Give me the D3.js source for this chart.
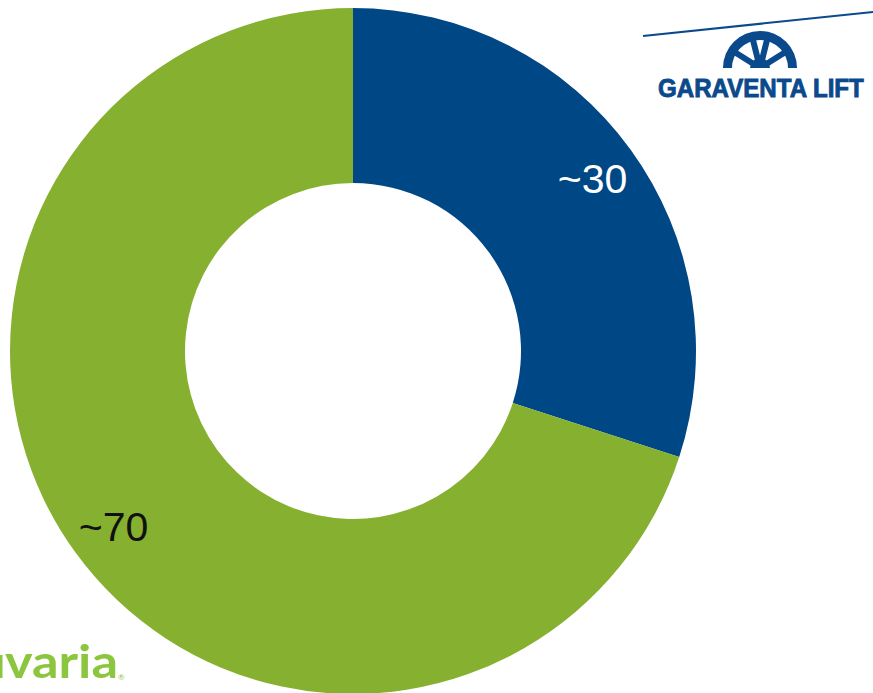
<!DOCTYPE html>
<html>
<head>
<meta charset="utf-8">
<script src="https://cdn.jsdelivr.net/npm/d3@7"></script>
<style>
  html, body { margin: 0; padding: 0; background: #ffffff; }
  svg { display: block; }
</style>
</head>
<body>
<svg id="chart" width="873" height="693"></svg>
<script>
// Share split (percent), drawn clockwise from 12 o'clock
const categories = ["Garaventa Lift", "Other"];
const values = [30, 70];
const labels = ["~30", "~70"];
const sliceColors = ["#004786", "#86b02f"];
const labelColors = ["#ffffff", "#111111"];

const svg = d3.select("#chart");
const cx = 353, cy = 351;
const outerR = 343, innerR = 168, labelR = 296;

const pie = d3.pie().sort(null).value(d => d.value);
const arcs = pie(categories.map((c, i) => ({ name: c, value: values[i], i })));

const arc = d3.arc().innerRadius(innerR).outerRadius(outerR);

const g = svg.append("g").attr("transform", `translate(${cx},${cy})`);

g.selectAll("path.slice")
  .data(arcs)
  .join("path")
  .attr("class", "slice")
  .attr("d", arc)
  .attr("fill", d => sliceColors[d.data.i]);

const labelArc = d3.arc().innerRadius(labelR).outerRadius(labelR);
g.selectAll("text.lbl")
  .data(arcs)
  .join("text")
  .attr("class", "lbl")
  .attr("transform", d => { const [x, y] = labelArc.centroid(d); return `translate(${x},${y + 2})`; })
  .attr("text-anchor", "middle")
  .attr("dominant-baseline", "central")
  .attr("font-family", "'Liberation Sans', Arial, sans-serif")
  .attr("font-size", 41)
  .attr("fill", d => labelColors[d.data.i])
  .text(d => labels[d.data.i]);

// Garaventa Lift brand mark, top right
const brand = "#0a4a8c";
svg.append("line")
  .attr("x1", 643).attr("y1", 36).attr("x2", 873).attr("y2", 12)
  .attr("stroke", brand).attr("stroke-width", 2);

const logo = svg.append("g").attr("transform", "translate(760,68)");
logo.append("path")
  .attr("d", d3.arc().innerRadius(28).outerRadius(37).startAngle(-Math.PI / 2).endAngle(Math.PI / 2)())
  .attr("fill", brand);
logo.append("path")
  .attr("d", d3.arc().innerRadius(0).outerRadius(10).startAngle(-Math.PI / 2).endAngle(Math.PI / 2)())
  .attr("fill", brand);
const spokeAngles = [-58, -14, 14, 58];
logo.selectAll("line.spoke")
  .data(spokeAngles)
  .join("line")
  .attr("class", "spoke")
  .attr("x1", 0).attr("y1", 0)
  .attr("x2", a => Math.sin(a * Math.PI / 180) * 31)
  .attr("y2", a => -Math.cos(a * Math.PI / 180) * 31)
  .attr("stroke", brand).attr("stroke-width", 6);
// keep the hub flat along the bottom
logo.append("rect").attr("x", -40).attr("y", 0).attr("width", 80).attr("height", 6).attr("fill", "#ffffff");

// wordmark, condensed horizontally
svg.append("text")
  .attr("transform", "translate(658,97) scale(0.91,1)")
  .attr("font-family", "'Liberation Sans', Arial, sans-serif")
  .attr("font-weight", "bold")
  .attr("font-size", 26.5)
  .attr("fill", brand)
  .attr("stroke", brand)
  .attr("stroke-width", 0.9)
  .text("GARAVENTA LIFT");

// Savaria wordmark, running off the left edge
const green = "#8cc63f";
svg.append("rect").attr("x", 0).attr("y", 655).attr("width", 2.5).attr("height", 23).attr("fill", green);
svg.append("text")
  .attr("x", 5).attr("y", 678)
  .attr("font-family", "Lato, 'Open Sans', sans-serif")
  .attr("font-weight", "bold")
  .attr("font-size", 46)
  .attr("textLength", 113)
  .attr("lengthAdjust", "spacingAndGlyphs")
  .attr("fill", green)
  .text("varia");
svg.append("text")
  .attr("x", 118).attr("y", 680)
  .attr("font-family", "Lato, sans-serif")
  .attr("font-size", 8)
  .attr("fill", green)
  .text("®");
</script>
</body>
</html>
